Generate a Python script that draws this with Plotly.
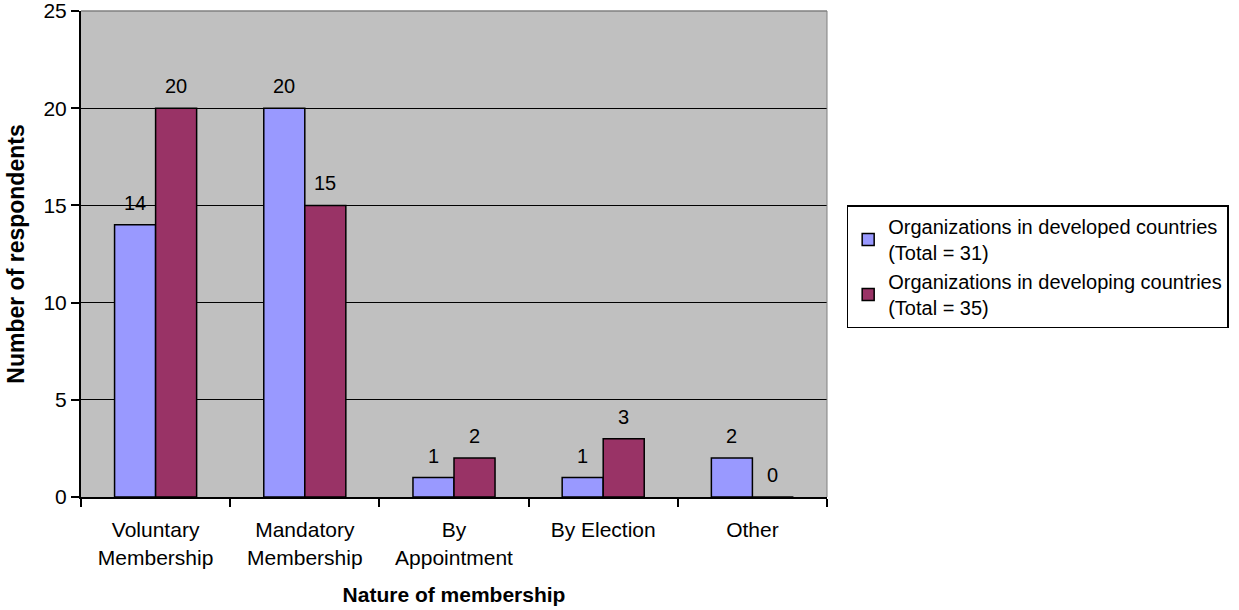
import plotly.graph_objects as go

categories = ["Voluntary<br>Membership", "Mandatory<br>Membership", "By<br>Appointment", "By Election", "Other"]
developed = [14, 20, 1, 1, 2]
developing = [20, 15, 2, 3, 0]
series_names = [
    "Organizations in developed countries<br>(Total = 31)",
    "Organizations in developing countries<br>(Total = 35)",
]

FONT = "Liberation Sans, Arial, sans-serif"
BARGAP = 0.45
HALF = (1 - BARGAP) / 4  # offset of each bar centre from its category centre

fig = go.Figure()
series = [
    (series_names[0], developed, "#9999FF", -HALF),
    (series_names[1], developing, "#993366", HALF),
]
for name, vals, color, _ in series:
    fig.add_trace(go.Bar(
        x=categories, y=vals, name=name,
        marker=dict(color=color, line=dict(color="black", width=1.5)),
    ))

# value labels floating above each bar
for _, vals, _, off in series:
    for i, v in enumerate(vals):
        fig.add_annotation(
            x=i + off, y=v, xref="x", yref="y", text=str(v), showarrow=False,
            yanchor="bottom", yshift=9,
            font=dict(family=FONT, size=20, color="black"),
        )

fig.update_layout(
    width=1239, height=610,
    margin=dict(l=81, r=411, t=11, b=113),
    paper_bgcolor="white", plot_bgcolor="#C0C0C0",
    barmode="group", bargap=BARGAP, bargroupgap=0,
    font=dict(family=FONT, size=21, color="black"),
    showlegend=True,
    legend=dict(
        x=1.025, y=0.6, xanchor="left", yanchor="top",
        bgcolor="white", bordercolor="black", borderwidth=1.5,
        font=dict(family=FONT, size=20, color="black"),
        tracegroupgap=0, itemwidth=30,
    ),
)
fig.update_xaxes(
    type="category", tickson="boundaries", ticks="outside", ticklen=8,
    tickcolor="black", tickwidth=2, showline=True, linecolor="black", linewidth=2,
    showgrid=False, ticklabelstandoff=13, automargin=False,
    tickfont=dict(family=FONT, size=21),
    title=dict(text="<b>Nature of membership</b>", font=dict(family=FONT, size=21), standoff=20),
)
fig.update_yaxes(
    range=[0, 25], dtick=5, ticks="outside", ticklen=8, tickcolor="black", tickwidth=2,
    showline=True, linecolor="black", linewidth=2, ticklabeloverflow="allow", automargin=False,
    showgrid=True, gridcolor="black", gridwidth=1, zeroline=False,
    tickfont=dict(family=FONT, size=21),
    title=dict(text="<b>Number of respondents</b>", font=dict(family=FONT, size=23), standoff=12),
)
# thin grey frame along the top and right edges of the plotting area
fig.add_shape(type="line", xref="paper", yref="paper", x0=0, x1=1, y0=1, y1=1,
              line=dict(color="#808080", width=1.5))
fig.add_shape(type="line", xref="paper", yref="paper", x0=1, x1=1, y0=0, y1=1,
              line=dict(color="#808080", width=1))

fig.write_html("out.html")
